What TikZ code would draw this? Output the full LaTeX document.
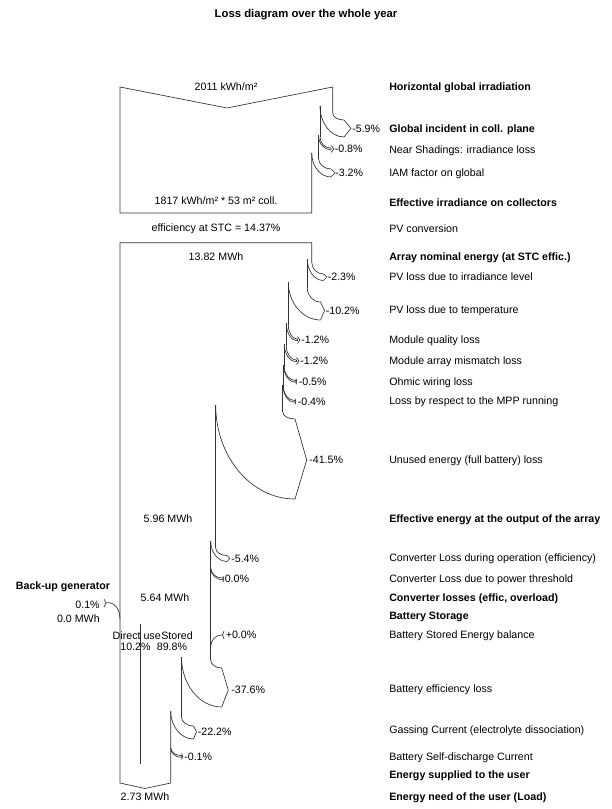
\documentclass[tikz,border=0pt]{standalone}
\usepackage{fontspec}
\setmainfont{Liberation Sans}
\newcommand\lossarrow[9]{%
  \pgfmathsetmacro\lAa{#2+0.552*(#6-#2)}%
  \pgfmathsetmacro\lAb{#5-0.552*(#5-#1)}%
  \pgfmathsetmacro\lAc{#4+0.552*(#7-#4)}%
  \pgfmathsetmacro\lAd{#5-0.552*(#5-#3)}%
  \draw[ln] (#1,#2) .. controls (#1,\lAa) and (\lAb,#6) .. (#5,#6) -- (#8,#9) -- (#5,#7);
  \draw[ln] (#3,#4) .. controls (#3,\lAc) and (\lAd,#7) .. (#5,#7);
}
% thin: xo yo xi yi xe yt h d
\newcommand\thinarrow[8]{%
  \pgfmathsetmacro\lAe{#6-0.9}%
  \pgfmathsetmacro\lAf{#6+0.9}%
  \pgfmathsetmacro\lAg{#6-#7}%
  \pgfmathsetmacro\lAh{#6+#7}%
  \pgfmathsetmacro\lAi{#5+#8}%
  \lossarrow{#1}{#2}{#3}{#4}{#5}{\lAe}{\lAf}{#5}{\lAe}%
  \draw[ln] (#5,\lAg) -- (\lAi,#6) -- (#5,\lAh);
}
\begin{document}
\begin{tikzpicture}[x=0.75pt,y=-0.75pt,
  ln/.style={draw=black!80, line width=0.5pt, line join=miter},
  lbl/.style={inner sep=0pt, font=\fontsize{8pt}{9.6pt}\selectfont, yshift=-2.85pt, text=black},
  blbl/.style={lbl, font=\fontsize{8pt}{9.6pt}\selectfont\bfseries}]
\useasboundingbox (0,0) rectangle (611,809);

% title
\node[blbl, anchor=base, font=\fontsize{8.5pt}{10pt}\selectfont\bfseries] (title) at (306,14) {Loss diagram over the whole year};

% ---------- irradiance block ----------
\draw[ln] (332.7,113) -- (332.7,87) -- (227,108) -- (120,87) -- (120,213) -- (311.7,213) -- (311.7,153);
\draw[ln] (320,106) -- (320,137);
\draw[ln] (318.4,135) -- (318.4,158);
\lossarrow{332.7}{113}{320}{106}{344}{120}{137}{351}{128.5}
\thinarrow{320}{137}{318.4}{135}{331}{149}{3.5}{3}
\lossarrow{318.4}{158}{311.7}{153}{331}{169}{177}{335}{173}

% ---------- energy block ----------
\draw[ln] (311.7,262) -- (311.7,242.7) -- (120,242.7) -- (120,783) -- (145,788.5) -- (170.7,783) -- (170.7,711);
\draw[ln] (307.3,259) -- (307.3,288);
\draw[ln] (288.3,282) -- (288.3,325);
\draw[ln] (286.3,323) -- (286.3,346);
\draw[ln] (284.3,344) -- (284.3,367);
\draw[ln] (283.5,365) -- (283.5,387);
\draw[ln] (282.8,385) -- (282.8,412);
\draw[ln] (215.7,405) -- (215.7,548);
\draw[ln] (210.7,541) -- (210.7,660);
\draw[ln] (181.5,657) -- (181.5,717);
\draw[ln] (140.7,624) -- (140.7,764);

\lossarrow{311.7}{262}{307.3}{259}{323.5}{274}{280.5}{327}{277}
\lossarrow{307.3}{288}{288.3}{282}{320.5}{302}{320}{324.5}{310.5}
\thinarrow{288.3}{325}{286.3}{323}{297.5}{340}{3.5}{2.5}
\thinarrow{286.3}{346}{284.3}{344}{296.5}{361}{3.5}{2.5}
\thinarrow{284.3}{367}{283.5}{365}{296}{381.5}{3}{0.8}
\thinarrow{283.5}{387}{282.8}{385}{295}{401.5}{3}{0.8}
\lossarrow{282.8}{412}{215.7}{405}{295}{419}{499}{306.7}{460}
\lossarrow{215.7}{548}{210.7}{541}{227}{555.5}{561.5}{230}{558.5}
\thinarrow{210.7}{568}{210.7}{568}{223}{579}{3}{0.8}
\lossarrow{210.7}{660}{181.5}{657}{221.7}{668}{707}{228.3}{690}
\lossarrow{181.5}{717}{170.7}{711}{193.5}{726}{739}{196.5}{731.5}
\thinarrow{170.7}{748}{170.7}{748}{181.7}{756.5}{3}{0.8}

% gain arrows
\draw[ln] (222.5,635) .. controls (215,635) and (210.7,640) .. (210.7,648);
\draw[ln] (224,631) -- (222.5,635) -- (224,639);
\draw[ln] (106,603) .. controls (113,601) and (120,608) .. (120,619);
\draw[ln] (104,599) -- (106,603) -- (104,607);

% ---------- values on the diagram ----------
\node[lbl, anchor=base] (v1) at (226,87) {2011 kWh/m²};
\node[lbl, anchor=base] (v2) at (216,201) {1817 kWh/m² * 53 m² coll.};
\node[lbl, anchor=base] (v3) at (216,228) {efficiency at STC = 14.37\%};
\node[lbl, anchor=base] (v4) at (216,257) {13.82 MWh};
\node[lbl, anchor=base] (v5) at (168,519) {5.96 MWh};
\node[lbl, anchor=base] (v6) at (165,598) {5.64 MWh};
\node[blbl, anchor=base] (v7) at (63,586) {Back-up generator};
\node[lbl, anchor=base east] (v8) at (100,605) {0.1\%};
\node[lbl, anchor=base east] (v9) at (100,619) {0.0 MWh};
\node[lbl, anchor=base east] (v10) at (161,636) {Direct use};
\node[lbl, anchor=base west] (v11) at (161,636) {Stored};
\node[lbl, anchor=base] (v12) at (135.5,647) {10.2\%};
\node[lbl, anchor=base] (v13) at (172,647) {89.8\%};
\node[lbl, anchor=base] (v14) at (145,797) {2.73 MWh};

% loss percentages
\node[lbl, anchor=base west] (p1) at (352,128.5) {-5.9\%};
\node[lbl, anchor=base west] (p2) at (334.5,149) {-0.8\%};
\node[lbl, anchor=base west] (p3) at (335,173) {-3.2\%};
\node[lbl, anchor=base west] (p4) at (327.5,277) {-2.3\%};
\node[lbl, anchor=base west] (p5) at (325.5,310.5) {-10.2\%};
\node[lbl, anchor=base west] (p6) at (301,340) {-1.2\%};
\node[lbl, anchor=base west] (p7) at (300,361) {-1.2\%};
\node[lbl, anchor=base west] (p8) at (298.5,381.5) {-0.5\%};
\node[lbl, anchor=base west] (p9) at (297.5,401.5) {-0.4\%};
\node[lbl, anchor=base west] (p10) at (309,460) {-41.5\%};
\node[lbl, anchor=base west] (p11) at (231,558.5) {-5.4\%};
\node[lbl, anchor=base west] (p12) at (224.5,579) {0.0\%};
\node[lbl, anchor=base west] (p13) at (225.5,635) {+0.0\%};
\node[lbl, anchor=base west] (p14) at (231,689.5) {-37.6\%};
\node[lbl, anchor=base west] (p15) at (197.5,731.5) {-22.2\%};
\node[lbl, anchor=base west] (p16) at (184,756.5) {-0.1\%};

% right-hand captions
\node[blbl, anchor=base west] (r1) at (389,87) {Horizontal global irradiation};
\node[blbl, anchor=base west] (r2) at (389,128.5) {Global incident in coll. plane};
\node[lbl, anchor=base west] (r3) at (389,149.5) {Near Shadings: irradiance loss};
\node[lbl, anchor=base west] (r4) at (389,172.5) {IAM factor on global};
\node[blbl, anchor=base west] (r5) at (389,202.5) {Effective irradiance on collectors};
\node[lbl, anchor=base west] (r6) at (389,228.3) {PV conversion};
\node[blbl, anchor=base west] (r7) at (389,257) {Array nominal energy (at STC effic.)};
\node[lbl, anchor=base west] (r8) at (389,277) {PV loss due to irradiance level};
\node[lbl, anchor=base west] (r9) at (389,310) {PV loss due to temperature};
\node[lbl, anchor=base west] (r10) at (389,340) {Module quality loss};
\node[lbl, anchor=base west] (r11) at (389,361) {Module array mismatch loss};
\node[lbl, anchor=base west] (r12) at (389,381.5) {Ohmic wiring loss};
\node[lbl, anchor=base west] (r13) at (389,401) {Loss by respect to the MPP running};
\node[lbl, anchor=base west] (r14) at (389,459.5) {Unused energy (full battery) loss};
\node[blbl, anchor=base west] (r15) at (389,519) {Effective energy at the output of the array};
\node[lbl, anchor=base west] (r16) at (389,558) {Converter Loss during operation (efficiency)};
\node[lbl, anchor=base west] (r17) at (389,579) {Converter Loss due to power threshold};
\node[blbl, anchor=base west] (r18) at (389,598) {Converter losses (effic, overload)};
\node[blbl, anchor=base west] (r19) at (389,616) {Battery Storage};
\node[lbl, anchor=base west] (r20) at (389,635) {Battery Stored Energy balance};
\node[lbl, anchor=base west] (r21) at (389,688.5) {Battery efficiency loss};
\node[lbl, anchor=base west] (r22) at (389,730) {Gassing Current (electrolyte dissociation)};
\node[lbl, anchor=base west] (r23) at (389,756.5) {Battery Self-discharge Current};
\node[blbl, anchor=base west] (r24) at (389,775) {Energy supplied to the user};
\node[blbl, anchor=base west] (r25) at (389,797) {Energy need of the user (Load)};
\end{tikzpicture}
\end{document}
